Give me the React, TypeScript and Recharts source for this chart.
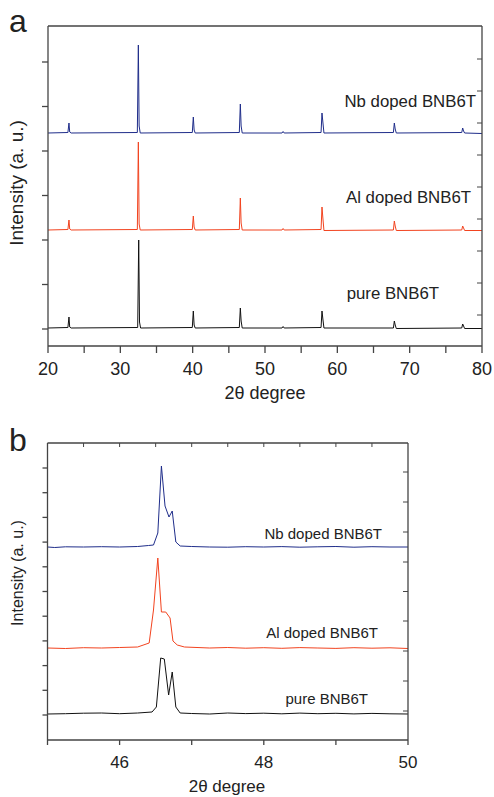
import React from 'react';
import { LineChart, Line, XAxis, YAxis } from 'recharts';

// --- panel a: full scans, 2θ 20–80 (intensity in arbitrary, offset units) ---
const nbA = [
  [20, 213], [22.75, 213.5], [22.9, 223], [23.0, 214], [23.2, 213],
  [32.35, 213.5], [32.49, 301], [32.6, 220], [32.75, 213],
  [39.95, 213.5], [40.09, 229], [40.2, 216], [40.35, 213],
  [46.45, 213.5], [46.59, 242], [46.7, 220], [46.85, 213],
  [52.35, 213], [52.5, 214.5], [52.65, 213],
  [57.75, 213.5], [57.88, 233], [58.0, 224], [58.15, 213],
  [67.75, 213.5], [67.88, 223], [68.0, 217], [68.15, 213],
  [77.2, 213.5], [77.33, 218], [77.45, 215], [77.6, 213], [80, 212.5],
];
const alA = [
  [20, 116], [22.75, 116.5], [22.9, 126], [23.0, 117], [23.2, 116],
  [32.35, 116.5], [32.49, 204], [32.6, 122], [32.75, 116],
  [39.95, 116.5], [40.09, 130], [40.2, 119], [40.35, 116],
  [46.45, 116.5], [46.59, 148], [46.7, 123], [46.85, 116],
  [52.35, 116], [52.5, 117.5], [52.65, 116],
  [57.75, 116.5], [57.88, 139], [58.0, 128], [58.15, 115.5],
  [67.75, 116], [67.88, 125], [68.0, 120], [68.15, 115.5],
  [77.2, 116], [77.33, 120], [77.45, 118], [77.6, 115.5], [80, 115.5],
];
const pureA = [
  [20, 18], [22.75, 18.5], [22.9, 29], [23.0, 19], [23.2, 18],
  [32.4, 18.5], [32.54, 106], [32.65, 24], [32.8, 18],
  [39.95, 18.5], [40.09, 35], [40.2, 21], [40.35, 18],
  [46.45, 18.5], [46.59, 38], [46.7, 25], [46.85, 18],
  [52.35, 18], [52.5, 19.5], [52.65, 18],
  [57.75, 18.5], [57.88, 35], [58.0, 27], [58.15, 18],
  [67.75, 18], [67.88, 25], [68.0, 21], [68.15, 17.5],
  [77.2, 18], [77.33, 22], [77.45, 20], [77.6, 17.5], [80, 17.5],
];
const xTicksA = [20, 25, 30, 35, 40, 45, 50, 55, 60, 65, 70, 75, 80];
const yLeftTicksA = [17, 61.5, 106, 150.5, 195, 239.5, 284];
const yRightTicksA = [31, 63, 95, 127, 159, 191, 223, 255, 287];

// --- panel b: zoom on the (200) region, 2θ 45–50 ---
const nbB = [
  [45, 193], [45.1, 192.5], [45.25, 193.2], [45.5, 193], [45.75, 193.3], [46.0, 193],
  [46.25, 193.5], [46.4, 194.5], [46.47, 195], [46.53, 207], [46.58, 274], [46.63, 234],
  [46.685, 223], [46.73, 229], [46.78, 198], [46.84, 194], [47, 193.5], [47.25, 193],
  [47.5, 192.8], [47.75, 193.3], [48, 193], [48.25, 193.4], [48.5, 192.8], [48.75, 193.2],
  [49, 193.5], [49.25, 192.8], [49.5, 193.3], [49.75, 193], [50, 193],
];
const alB = [
  [45, 92], [45.25, 91.5], [45.5, 92.3], [45.75, 92], [46.0, 92.5], [46.25, 93],
  [46.41, 97], [46.47, 130], [46.53, 182], [46.58, 128], [46.64, 128], [46.7, 122],
  [46.74, 99], [46.8, 95], [46.9, 93], [47.25, 92], [47.5, 92.5], [47.75, 91.8],
  [48, 92.3], [48.25, 91.7], [48.5, 92.4], [48.75, 92], [49, 91.6], [49.25, 92.3],
  [49.5, 91.8], [49.75, 92.2], [50, 91.5],
];
const pureB = [
  [45, 26], [45.25, 26.3], [45.5, 26.8], [45.75, 27], [46, 26.3], [46.25, 27],
  [46.45, 28], [46.51, 33], [46.57, 82], [46.62, 81], [46.68, 45], [46.73, 68],
  [46.78, 33], [46.84, 27], [47, 26.5], [47.25, 26], [47.5, 27], [47.75, 26.4],
  [48, 26.8], [48.25, 26.2], [48.5, 26.9], [48.75, 26.3], [49, 26.7], [49.25, 26.1],
  [49.5, 26.6], [49.75, 26.2], [50, 26],
];
const xTicksB = [45, 46, 47, 48, 49, 50];
const xTopTicksB = [45.5, 46, 46.5, 47, 47.5, 48, 48.5, 49, 49.5];
const yLeftTicksB = [25, 49.7, 74.4, 99.1, 123.8, 148.5, 173.2, 197.9, 222.6, 247.3, 272];
const yRightTicksB = [29, 59, 89, 119, 148.5, 178, 208, 238, 268];

const seriesNames = ['Nb doped BNB6T', 'Al doped BNB6T', 'pure BNB6T'];
const colors = ['#1f2d8a', '#f2431f', '#111111'];

const toRows = (pts: number[][]) => pts.map(([x, y]) => ({ x, y }));

const FONT = '"Liberation Sans", Arial, Helvetica, sans-serif';
const AXIS = '#444';

// one panel: the traces with the left / bottom axes
const Panel = ({ series, xDomain, yDomain, xTicks, yLeft, width, height, box, tickFont, xTickMargin, xTickSize, yTickSize, labelEvery }: any) => (
  <LineChart width={width} height={height} margin={{ top: box.top, right: width - box.right, bottom: 0, left: 0 }}>
    <XAxis
      type="number"
      dataKey="x"
      domain={xDomain}
      allowDataOverflow
      ticks={xTicks}
      interval={0}
      height={height - box.bottom}
      tickSize={xTickSize}
      tickMargin={xTickMargin}
      tickFormatter={(v: number) => (Math.round(v) % labelEvery === 0 ? String(v) : '')}
      stroke={AXIS}
      strokeWidth={1.3}
      tick={{ fill: '#222', fontSize: tickFont, fontFamily: FONT }}
    />
    <YAxis
      type="number"
      domain={yDomain}
      allowDataOverflow
      ticks={yLeft}
      interval={0}
      width={box.left}
      tickSize={yTickSize}
      tickFormatter={() => ''}
      stroke={AXIS}
      strokeWidth={1.3}
    />
    {series.map((s: number[][], i: number) => (
      <Line
        key={seriesNames[i]}
        data={toRows(s)}
        dataKey="y"
        type="linear"
        stroke={colors[i]}
        strokeWidth={1}
        dot={false}
        activeDot={false}
        isAnimationActive={false}
      />
    ))}
  </LineChart>
);

// top / right frame with inward ticks (page coordinates, panel offset added)
const Frame = ({ box, dy, xDomain, yDomain, yRight, xTop }: any) => {
  const sx = (v: number) => box.left + ((v - xDomain[0]) / (xDomain[1] - xDomain[0])) * (box.right - box.left);
  const sy = (v: number) => dy + box.bottom - ((v - yDomain[0]) / (yDomain[1] - yDomain[0])) * (box.bottom - box.top);
  const top = dy + box.top;
  return (
    <g stroke={AXIS} fill="none">
      <line x1={box.left} x2={box.right} y1={top} y2={top} strokeWidth={1.3} />
      <line x1={box.right} x2={box.right} y1={top} y2={dy + box.bottom} strokeWidth={1.3} />
      {yRight.map((v: number) => (
        <line key={`r${v}`} x1={box.right - 5} x2={box.right} y1={sy(v)} y2={sy(v)} strokeWidth={1} />
      ))}
      {(xTop || []).map((v: number) => (
        <line key={`t${v}`} x1={sx(v)} x2={sx(v)} y1={top} y2={top + 4} strokeWidth={1} />
      ))}
    </g>
  );
};

const boxA = { left: 48, right: 482, top: 26, bottom: 346 };
const boxB = { left: 47.5, right: 408, top: 43, bottom: 340 };

export default function App() {
  return (
    <div style={{ position: 'absolute', left: 0, top: 0, width: 494, height: 797, background: '#fff', fontFamily: FONT }}>
      <div style={{ position: 'absolute', left: 0, top: 0 }}>
        <Panel
          series={[nbA, alA, pureA]}
          xDomain={[20, 80]}
          yDomain={[0, 320]}
          xTicks={xTicksA}
          yLeft={yLeftTicksA}
          width={494}
          height={400}
          box={boxA}
          tickFont={18}
          xTickSize={7}
          xTickMargin={9}
          yTickSize={6}
          labelEvery={10}
        />
      </div>
      <div style={{ position: 'absolute', left: 0, top: 400 }}>
        <Panel
          series={[nbB, alB, pureB]}
          xDomain={[45, 50]}
          yDomain={[0, 297]}
          xTicks={xTicksB}
          yLeft={yLeftTicksB}
          width={494}
          height={397}
          box={boxB}
          tickFont={17}
          xTickSize={5}
          xTickMargin={11}
          yTickSize={5}
          labelEvery={2}
        />
      </div>
      <svg width={494} height={797} style={{ position: 'absolute', left: 0, top: 0, pointerEvents: 'none' }}>
        <Frame box={boxA} dy={0} xDomain={[20, 80]} yDomain={[0, 320]} yRight={yRightTicksA} />
        <Frame box={boxB} dy={400} xDomain={[45, 50]} yDomain={[0, 297]} yRight={yRightTicksB} xTop={xTopTicksB} />
        <g fontFamily={FONT} fill="#222">
          <text x={9} y={32} fontSize={32}>a</text>
          <text x={476} y={107} fontSize={16.8} textAnchor="end">{seriesNames[0]}</text>
          <text x={471} y={203} fontSize={16.8} textAnchor="end">{seriesNames[1]}</text>
          <text x={439} y={299} fontSize={16.8} textAnchor="end">{seriesNames[2]}</text>
          <text x={23} y={183} fontSize={19} textAnchor="middle" transform="rotate(-90 23 183)">Intensity (a. u.)</text>
          <text x={265} y={399} fontSize={18} textAnchor="middle">2θ degree</text>

          <text x={9} y={451} fontSize={32}>b</text>
          <text x={382} y={539} fontSize={15} textAnchor="end">{seriesNames[0]}</text>
          <text x={378} y={638} fontSize={15} textAnchor="end">{seriesNames[1]}</text>
          <text x={368} y={704} fontSize={15} textAnchor="end">{seriesNames[2]}</text>
          <text x={23} y={573} fontSize={16} textAnchor="middle" transform="rotate(-90 23 573)">Intensity (a. u.)</text>
          <text x={227} y={792} fontSize={17} textAnchor="middle">2θ degree</text>
        </g>
      </svg>
    </div>
  );
}
